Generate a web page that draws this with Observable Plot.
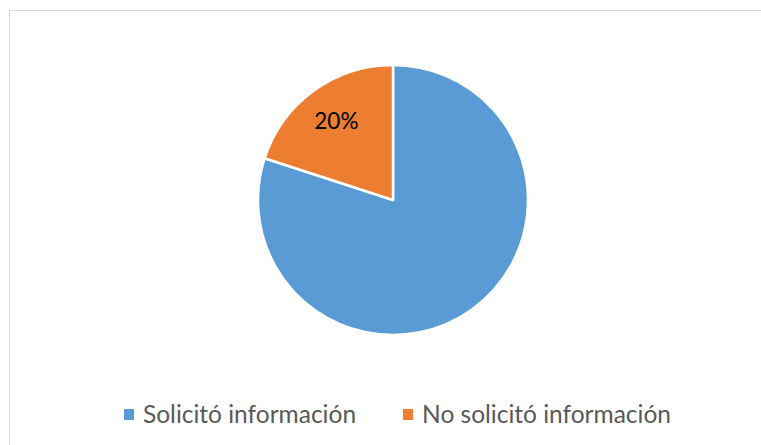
<!DOCTYPE html>
<html>
<head>
<meta charset="utf-8">
<script src="https://cdn.jsdelivr.net/npm/d3@7"></script>
<script src="https://cdn.jsdelivr.net/npm/@observablehq/plot@0.6"></script>
<style>
  html, body { margin: 0; padding: 0; background: #fff; }
  #wrap { position: relative; width: 761px; height: 445px; overflow: hidden; font-family: Lato, "Open Sans", sans-serif; }
  #frame { position: absolute; left: 9px; top: 10px; width: 800px; height: 500px; border: 1.5px solid #d9d9d9; box-sizing: border-box; }
  #chart { position: absolute; left: 0; top: 0; }
  #legend { position: absolute; left: 0; top: 399px; width: 761px; height: 30px; display: flex; justify-content: flex-start; align-items: center; padding-left: 124px; box-sizing: border-box; }
  .item { display: flex; align-items: center; font-size: 24.5px; line-height: 30px; height: 30px; color: #595959; margin-right: 47px; white-space: nowrap; }
  .sw { width: 10px; height: 11px; margin-right: 9px; margin-top: 1px; }
</style>
</head>
<body>
<div id="wrap">
  <div id="frame"></div>
  <div id="chart"></div>
  <div id="legend"></div>
</div>
<script>
const categories = ["Solicitó información", "No solicitó información"];
const values = [80, 20];
const colors = ["#5b9bd5", "#ed7d31"];
const labels = ["", "20%"];

const data = categories.map((c, i) => ({category: c, value: values[i], color: colors[i], label: labels[i]}));
const arcs = d3.pie().sort(null).value(d => d.value)(data);
const labelData = arcs.filter(a => a.data.label).map(a => {
  const mid = (a.startAngle + a.endAngle) / 2;
  return {x: Math.sin(mid) * 0.72, y: Math.cos(mid) * 0.72, label: a.data.label};
});

function pieMark(index, scales) {
  const cx = scales.x(0), cy = scales.y(0), r = scales.x(1) - scales.x(0);
  const arc = d3.arc().innerRadius(0).outerRadius(r);
  const g = d3.create("svg:g").attr("transform", `translate(${cx},${cy})`);
  g.selectAll("path").data(arcs).join("path")
    .attr("d", arc)
    .attr("fill", d => d.data.color)
    .attr("stroke", "#fff")
    .attr("stroke-width", 2.5)
    .attr("stroke-linejoin", "round");
  return g.node();
}

const plot = Plot.plot({
  width: 761,
  height: 390,
  margin: 0,
  x: {domain: [-1, 1], range: [258, 528], axis: null},
  y: {domain: [-1, 1], range: [335, 65], axis: null},
  style: {background: "transparent"},
  marks: [
    pieMark,
    Plot.text(labelData, {x: "x", y: "y", text: "label", fill: "#000", fontSize: 22.5, fontFamily: "Lato, 'Open Sans', sans-serif"})
  ]
});
document.getElementById("chart").appendChild(plot);

const legend = document.getElementById("legend");
data.forEach(d => {
  const it = document.createElement("div");
  it.className = "item";
  const sw = document.createElement("div");
  sw.className = "sw";
  sw.style.background = d.color;
  const t = document.createElement("span");
  t.textContent = d.category;
  it.appendChild(sw);
  it.appendChild(t);
  legend.appendChild(it);
});
</script>
</body>
</html>
